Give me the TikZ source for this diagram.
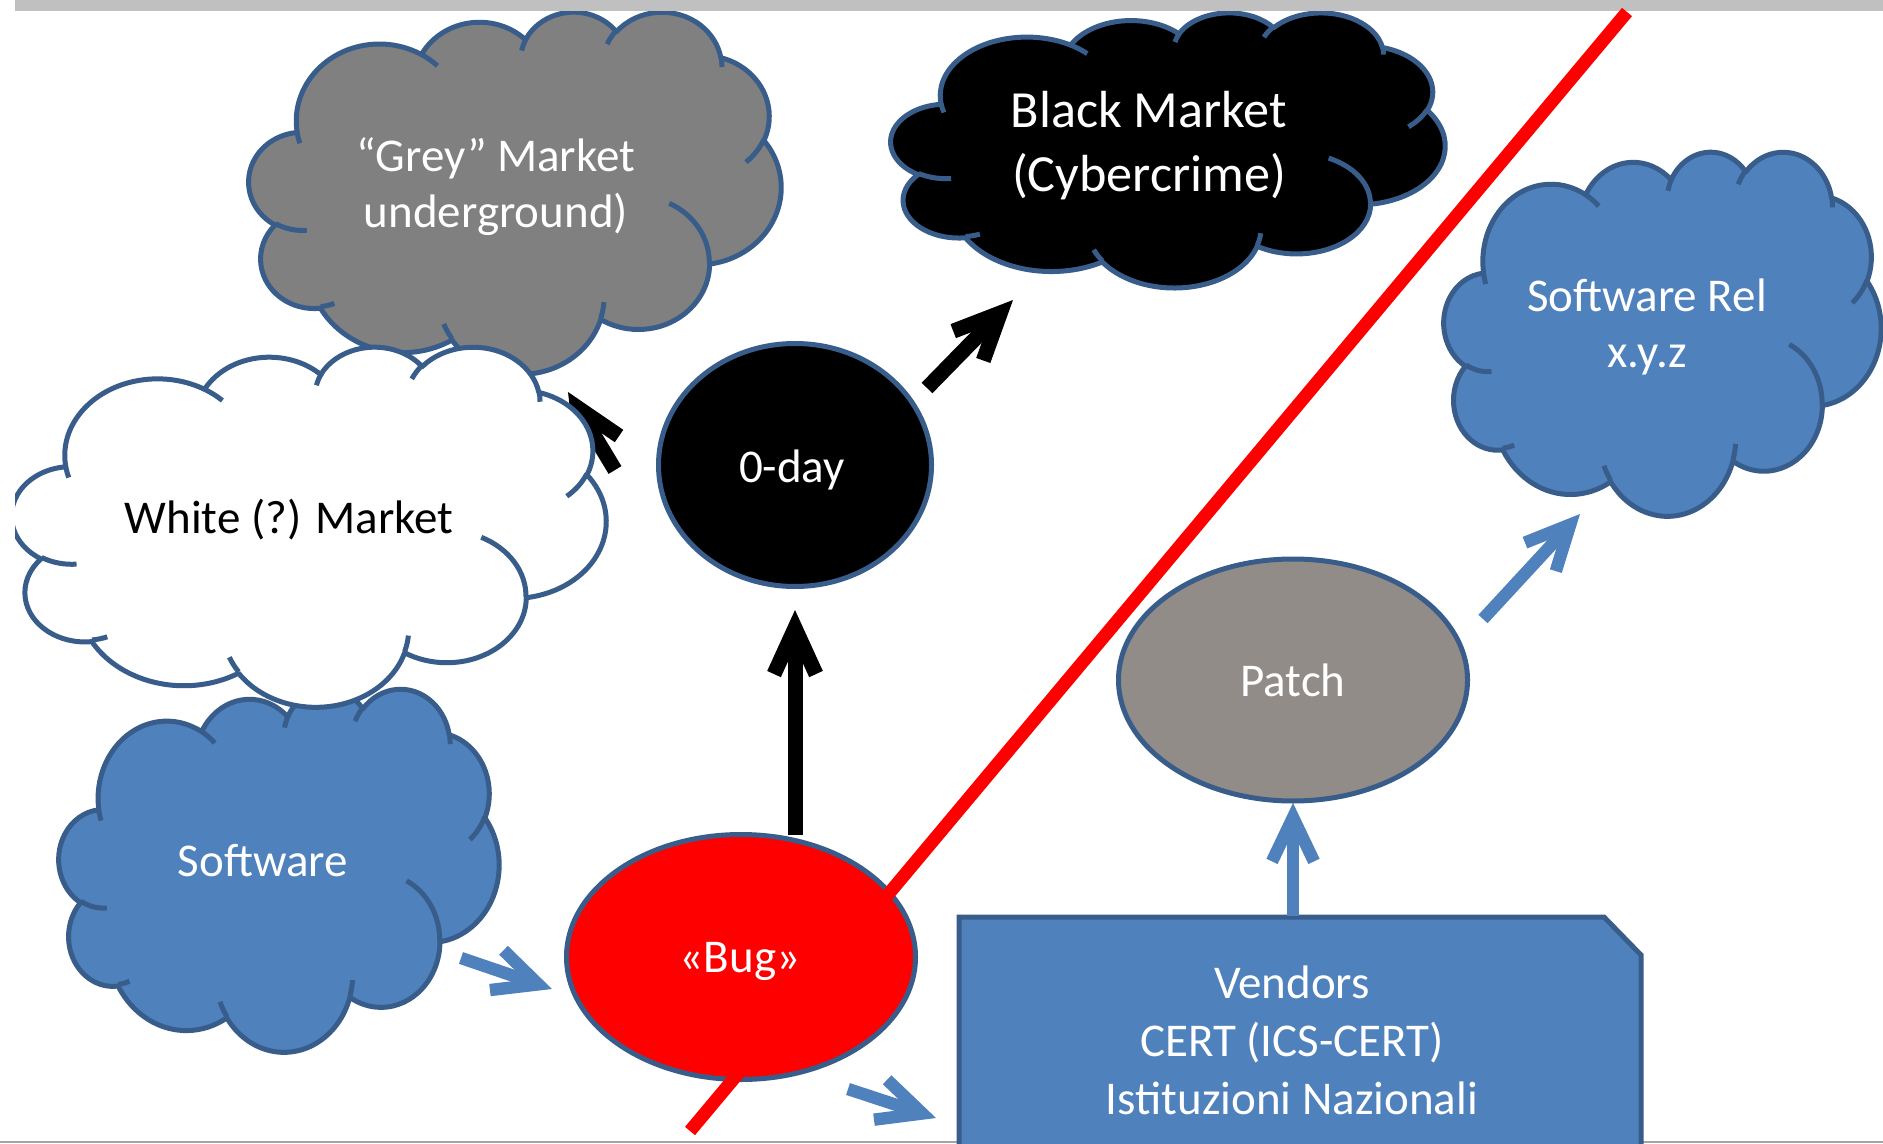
\documentclass[tikz,border=0pt]{standalone}
\usepackage{fontspec}
\setmainfont{Carlito}
\usetikzlibrary{arrows.meta,shapes.geometric}

\definecolor{cloudedge}{RGB}{56,93,138}
\definecolor{officeblue}{RGB}{79,129,189}
\definecolor{midgrey}{RGB}{128,128,128}
\definecolor{taupe}{RGB}{146,140,136}
\definecolor{barfill}{RGB}{192,192,192}
\definecolor{rulegrey}{RGB}{165,165,165}

% Elliptical arc given as in DrawingML: radii, start angle and sweep measured
% as visual angles; pa() turns a visual angle into the parametric one.
\tikzset{
  declare function={pa(\pA,\pB,\pT)=\pT+asin(sin(atan2(\pA*sin(\pT),\pB*cos(\pT))-\pT));},
  edge line/.style={draw=cloudedge, line width=2.5pt, line join=round},
  label text/.style={anchor=base, inner sep=0pt, text=white,
    font=\fontsize{23.5}{28}\selectfont},
  blob/.style={ellipse, edge line, inner sep=0pt},
  blackarrow/.style={draw=black, line width=7.5pt,
    -{Straight Barb[length=23pt,width=21pt]}},
  bluearrow/.style={draw=officeblue, line width=6.2pt,
    -{Straight Barb[length=22pt,width=21pt]}},
}
\newcommand\oarc[4]{arc[x radius=#1, y radius=#2,
  start angle={pa(#1,#2,#3)}, end angle={pa(#1,#2,#3+#4)}]}
\newcommand\stack[1]{\begin{tabular}[t]{@{}c@{}}#1\end{tabular}}

% cloud outline on a 43.2 x 43.2 grid
\newcommand\cloudoutline{(3.900,14.370)
  \oarc{6.753}{9.190}{-190.48748}{123.78053}
  \oarc{5.333}{7.267}{-144.10238}{89.94523}
  \oarc{4.365}{5.945}{-145.80792}{99.72302}
  \oarc{4.857}{6.595}{-130.98607}{117.24173}
  \oarc{5.333}{7.273}{-78.70888}{109.02692}
  \oarc{6.775}{9.220}{-46.26725}{130.26900}
  \oarc{5.785}{7.867}{0.62502}{114.03333}
  \oarc{6.752}{9.215}{22.45160}{115.17255}
  \oarc{7.720}{10.543}{66.24263}{75.71102}
  \oarc{4.360}{5.918}{-274.94208}{146.73557}
  \oarc{4.345}{5.945}{-246.82850}{152.51885} -- cycle}
% the short inner creases of the cloud
\newcommand\cloudcreases{%
  (4.693,26.177) \oarc{4.345}{5.945}{86.74200}{26.42950}
  (6.928,34.899) \oarc{4.360}{5.918}{73.61047}{11.44747}
  (16.478,39.090) \oarc{6.752}{9.215}{137.62415}{14.08110}
  (28.827,34.751) \oarc{6.752}{9.215}{6.45327}{15.99835}
  (34.129,22.954) \oarc{5.785}{7.867}{-70.29235}{70.91737}
  (41.798,15.354) \oarc{5.333}{7.273}{30.31803}{27.75150}
  (38.324,5.426) \oarc{4.857}{6.595}{-13.74433}{14.85890}
  (29.078,3.952) \oarc{4.857}{6.595}{-149.18145}{18.19537}
  (22.141,4.720) \oarc{4.365}{5.945}{-163.49427}{17.68635}
  (14.000,5.192) \oarc{6.753}{9.190}{-66.70695}{12.31935}
  (4.127,15.789) \oarc{6.753}{9.190}{157.65435}{11.85817}}
% #1 fill, #2 left, #3 top, #4 width, #5 height
\newcommand\drawcloud[5]{%
  \begin{scope}[shift={(#2,#3)}, xscale=#4/43.2, yscale=#5/43.2]
    \filldraw[edge line, fill=#1] \cloudoutline;
    \draw[edge line] \cloudcreases;
  \end{scope}}

\begin{document}
\begin{tikzpicture}[x=0.5pt, y=-0.5pt]
\useasboundingbox (0,0) rectangle (1883,1144);
\fill[white] (0,0) rectangle (1883,1144);
\draw[rulegrey, line width=1pt] (0,1142) -- (1883,1142);

% connector end points
\coordinate (gr1) at (615,470);   \coordinate (gr2) at (568,392);
\coordinate (bk1) at (927,388);   \coordinate (bk2) at (1013,300);
\coordinate (bz1) at (795,835);   \coordinate (bz2) at (795,610);
\coordinate (sb1) at (461,958);   \coordinate (sb2) at (552,989);
\coordinate (bv1) at (848,1089);  \coordinate (bv2) at (936,1118);
\coordinate (vp1) at (1293,916);  \coordinate (vp2) at (1293,803);
\coordinate (pr1) at (1483,619);  \coordinate (pr2) at (1580,514);
\coordinate (redlo) at (690,1131); \coordinate (redhi) at (1627,12);

% grey market
\drawcloud{midgrey}{249}{11}{532}{362}
\node[label text] (grey) at (496,172) {\stack{“Grey” Market\\underground)}};
\draw[blackarrow] (gr1) -- (gr2);

% software
\drawcloud{officeblue}{59}{688}{440}{363}
\node[label text] (software) at (263,876) {Software};

% white market, trimmed at the left margin
\begin{scope}
  \clip (15,0) rectangle (1883,1144);
  \drawcloud{white}{12}{346}{594}{360}
\end{scope}
\node[label text, text=black] (white) at (289,533) {White (?) Market};

% black market
\drawcloud{black}{891}{12}{554}{275}
\node[label text, font=\fontsize{26.1}{32}\selectfont] (black) at (1149,128)
  {\stack{Black Market\\(Cybercrime)}};

% software release
\drawcloud{officeblue}{1444}{151}{437}{364}
\node[label text] (swrel) at (1647,312) {\stack{Software Rel\\x.y.z}};

% top bar
\fill[barfill] (15,0) rectangle (1883,10.7);

% 0-day
\node[blob, fill=black, minimum width=136.5pt, minimum height=121.5pt]
  (zeroday) at (795,465) {};
\node[label text] (zerodaytext) at (792,482) {0-day};
\draw[blackarrow] (bk1) -- (bk2);
\draw[blackarrow] (bz1) -- (bz2);

% bug
\node[blob, fill=red, minimum width=174.5pt, minimum height=122.5pt]
  (bug) at (741,957) {};
\node[label text] (bugtext) at (740,972) {«Bug»};
\draw[red, line width=6.5pt] (redlo) -- (redhi);

% patch
\node[blob, fill=taupe, minimum width=174.5pt, minimum height=121pt]
  (patch) at (1293,680) {};
\node[label text] (patchtext) at (1293,696) {Patch};

% vendors box with its clipped corner
\filldraw[edge line, line join=miter, fill=officeblue]
  (959,1180) -- (959,917) -- (1604,917) -- (1641,955) -- (1641,1180) -- cycle;
\node[label text, font=\fontsize{23.5}{29}\selectfont] (vendors) at (1292,998)
  {\stack{Vendors\\CERT (ICS-CERT)\\Istituzioni Nazionali}};

% blue flow
\draw[bluearrow] (sb1) -- (sb2);
\draw[bluearrow] (bv1) -- (bv2);
\draw[bluearrow] (vp1) -- (vp2);
\draw[bluearrow] (pr1) -- (pr2);
\end{tikzpicture}
\end{document}
